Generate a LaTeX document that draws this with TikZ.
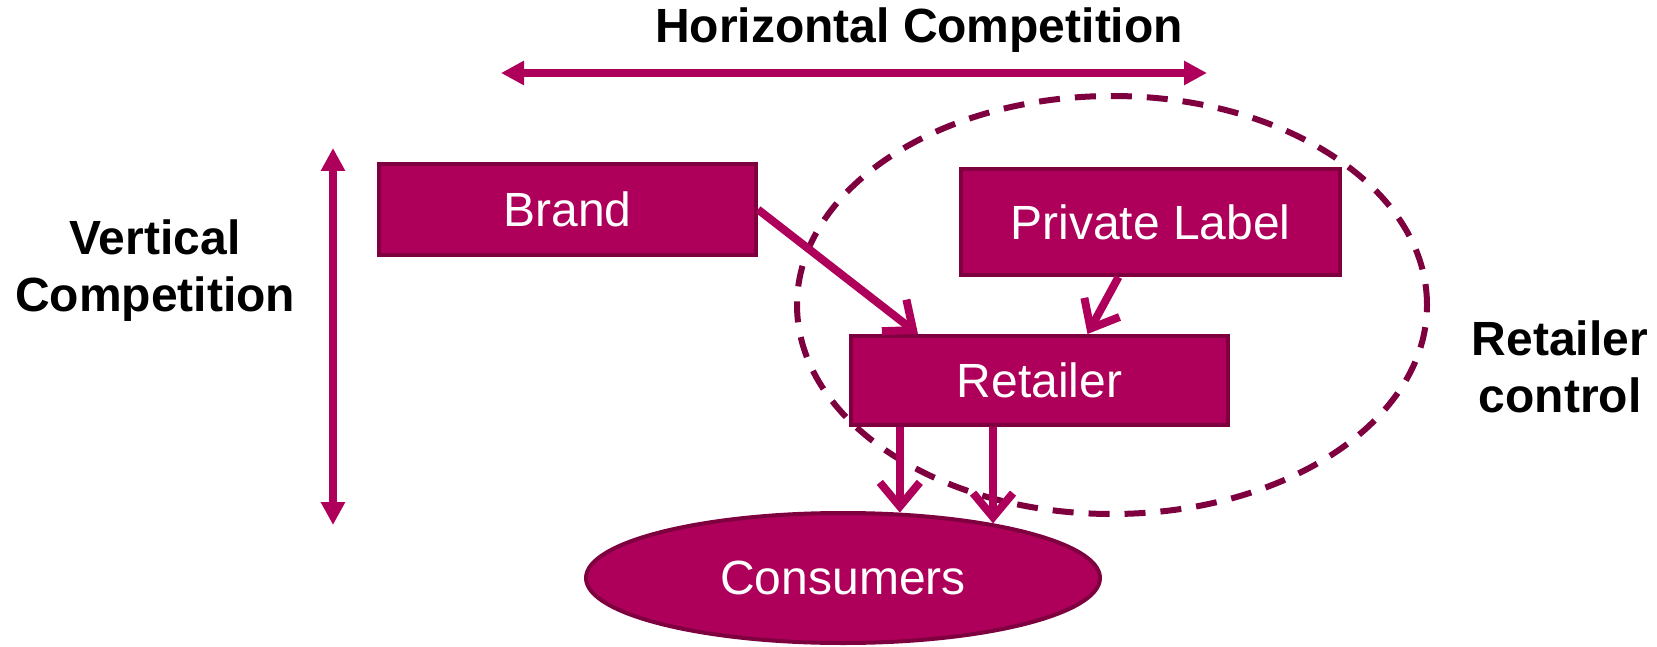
\documentclass[tikz,border=0pt]{standalone}
\usepackage{fontspec}
\setmainfont{Liberation Sans}
\usetikzlibrary{arrows.meta,shapes.geometric}
\definecolor{berry}{HTML}{AE005B}
\definecolor{berrydark}{HTML}{7E003F}
\begin{document}
\begin{tikzpicture}[x=1pt,y=-1pt,
  box/.style={draw=berrydark, line width=4pt, fill=berry, text=white,
    inner sep=0pt, font=\fontsize{48}{57}\selectfont},
  label/.style={text=black, align=center, inner sep=0pt,
    font=\bfseries\fontsize{48}{57}\selectfont},
  flow/.style={draw=berry, line width=8pt,
    -{Straight Barb[length=24pt,width=40pt]}},
  span/.style={draw=berry, line width=8pt,
    {Triangle[length=23pt,width=23pt]}-{Triangle[length=23pt,width=23pt]}},
  zone/.style={draw=berrydark, line width=6pt, ellipse, inner sep=0pt,
    dash pattern=on 21pt off 15pt}]
\useasboundingbox (0,0) rectangle (1657,647);

% retailer control zone
\node[zone, minimum width=630pt, minimum height=418pt] (zone) at (1112,305) {};

% products, retailer and consumers
\node[box, minimum width=377pt, minimum height=91pt] (brand) at (567.5,209.5) {Brand};
\node[box, minimum width=379pt, minimum height=106pt] (private) at (1150.5,222) {Private Label};
\node[box, minimum width=377pt, minimum height=89pt] (retailer) at (1039.5,380.5) {Retailer};
\node[box, ellipse, minimum width=514pt, minimum height=130pt] (consumers) at (843,578) {Consumers};

% flows
\draw[flow] (brand.east) -- ([xshift=69pt]retailer.north west);
\draw[flow] ([xshift=-32pt]private.south) -- ([xshift=48pt]retailer.north);
\draw[flow] (consumers.49.4 |- retailer.south) -- (consumers.49.4);
\draw[flow] (consumers.20.4 |- retailer.south) -- (consumers.20.4);

% competition axes
\coordinate (hleft) at (501,73);
\coordinate (hright) at (1207,73);
\coordinate (vtop) at (333,148);
\coordinate (vbottom) at (333,525);
\draw[span] (hleft) -- (hright);
\draw[span] (vtop) -- (vbottom);

% labels
\node[label] (hlabel) at (919,30) {Horizontal Competition};
\node[label] (vlabel) at (155,271) {Vertical\\Competition};
\node[label] (rlabel) at (1560,367) {Retailer\\control};
\end{tikzpicture}
\end{document}
